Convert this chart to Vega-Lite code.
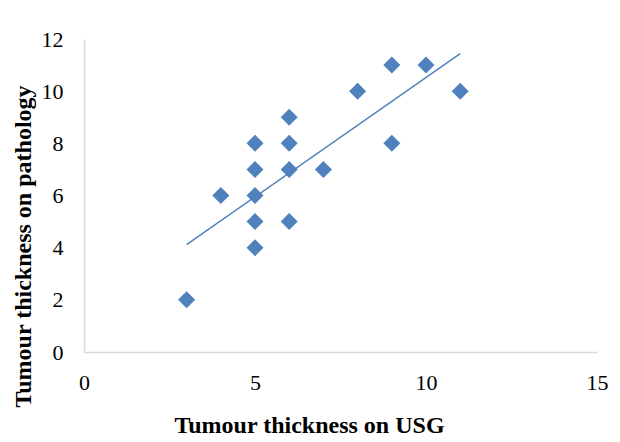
{
  "$schema": "https://vega.github.io/schema/vega-lite/v6.json",
  "width": 513,
  "height": 313,
  "autosize": {"type": "none"},
  "padding": {"left": 84, "top": 39, "right": 23, "bottom": 90},
  "background": "white",
  "config": {
    "view": {"stroke": null},
    "font": "Liberation Serif",
    "axis": {
      "grid": false,
      "ticks": false,
      "labelFlush": false,
      "domainColor": "#d9d9d9",
      "domainWidth": 1.5,
      "labelFont": "Liberation Serif",
      "labelFontSize": 22,
      "labelColor": "black",
      "titleFont": "Liberation Serif",
      "titleFontSize": 24,
      "titleFontWeight": "bold",
      "titleColor": "black"
    }
  },
  "data": {
    "values": [
      {"usg": 3, "path": 2},
      {"usg": 4, "path": 6},
      {"usg": 5, "path": 4},
      {"usg": 5, "path": 5},
      {"usg": 5, "path": 6},
      {"usg": 5, "path": 7},
      {"usg": 5, "path": 8},
      {"usg": 6, "path": 5},
      {"usg": 6, "path": 7},
      {"usg": 6, "path": 8},
      {"usg": 6, "path": 9},
      {"usg": 7, "path": 7},
      {"usg": 8, "path": 10},
      {"usg": 9, "path": 8},
      {"usg": 9, "path": 11},
      {"usg": 10, "path": 11},
      {"usg": 11, "path": 10}
    ]
  },
  "layer": [
    {
      "mark": {"type": "point", "shape": "diamond", "filled": true, "size": 290, "color": "#4F81BD", "opacity": 1},
      "encoding": {
        "x": {"field": "usg", "type": "quantitative", "scale": {"domain": [0, 15], "nice": false}, "axis": {"values": [0, 5, 10, 15], "labelPadding": 20, "title": "Tumour thickness on USG", "titlePadding": 20, "titleX": 225}},
        "y": {"field": "path", "type": "quantitative", "scale": {"domain": [0, 12], "nice": false}, "axis": {"values": [0, 2, 4, 6, 8, 10, 12], "labelPadding": 21, "title": "Tumour thickness on pathology", "titlePadding": 6, "titleY": 207}}
      }
    },
    {
      "transform": [{"regression": "path", "on": "usg"}],
      "mark": {"type": "line", "color": "#4F81BD", "strokeWidth": 1.5},
      "encoding": {
        "x": {"field": "usg", "type": "quantitative", "scale": {"domain": [0, 15], "nice": false}},
        "y": {"field": "path", "type": "quantitative", "scale": {"domain": [0, 12], "nice": false}}
      }
    }
  ]
}
